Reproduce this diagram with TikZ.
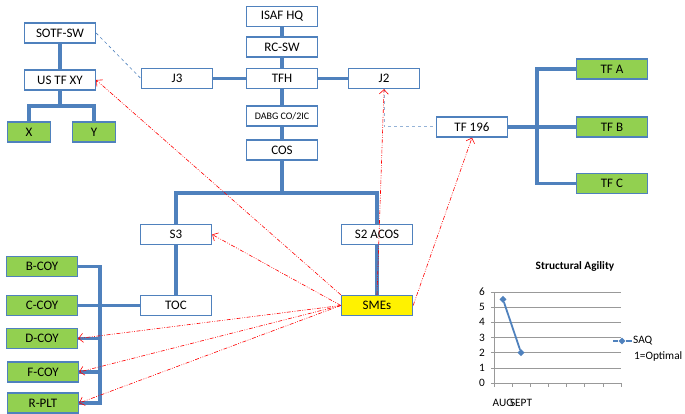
\documentclass[tikz,border=0pt]{standalone}
\usepackage{fontspec}
\setmainfont{Carlito}
\usetikzlibrary{positioning,shapes,arrows,arrows.meta}

\definecolor{boxblue}{HTML}{4F81BD}
\definecolor{coygreen}{HTML}{92D050}
\definecolor{dashblue}{HTML}{95B3D7}

\begin{document}
\begin{tikzpicture}[x=1pt,y=-1pt,inner sep=0.4mm,
  box/.style={draw=boxblue,line width=1.3pt,fill=white,minimum width=71pt,minimum height=20pt,font=\fontsize{13}{15}\selectfont},
  unit/.style={box,fill=coygreen},
  tree/.style={draw=boxblue,line width=3.5pt},
  liaison/.style={draw=dashblue,dashed,line width=1pt},
  sme/.style={-{Straight Barb[length=4.5pt,width=9pt]},red,line width=0.6pt,dash pattern=on 4pt off 1.5pt on 0.8pt off 1.5pt on 0.8pt off 1.5pt},
  chartgrid/.style={draw=black!40,line width=0.6pt},
  chartlbl/.style={font=\fontsize{11.3}{13}\selectfont}]
\useasboundingbox (0,0) rectangle (685,414);

% main chain
\node[box] (isaf) at (282,16.5) {ISAF HQ};
\node[box] (rcsw) at (282,47)   {RC-SW};
\node[box] (tfh)  at (282,78.5) {TFH};
\node[box,font=\fontsize{10}{12}\selectfont] (dabg) at (282,116) {DABG CO/2IC};
\node[box] (cos)  at (282,150)  {COS};
\node[box] (j3)   at (177,78.5) {J3};
\node[box] (j2)   at (384,78.5) {J2};

% left group
\node[box]  (sotf) at (60,33)  {SOTF-SW};
\node[box]  (ustf) at (60,80)  {US TF XY};
\node[unit,minimum width=43pt] (x) at (29,132) {X};
\node[unit,minimum width=43pt] (y) at (94,132) {Y};

% TF 196 group
\node[box]  (tf196) at (472,127) {TF 196};
\node[unit] (tfa)   at (612,69)  {TF A};
\node[unit] (tfb)   at (612,127) {TF B};
\node[unit] (tfc)   at (612,183.5) {TF C};

% staff
\node[box] (s3)  at (176,234.5) {S3};
\node[box] (s2)  at (377,234.5) {S2 ACOS};
\node[box] (toc) at (176,305.5) {TOC};
\node[box,fill=yellow] (smes) at (377,305.5) {SMEs};

% companies
\node[unit] (bcoy) at (42,266.5) {B-COY};
\node[unit] (ccoy) at (42,305.5) {C-COY};
\node[unit] (dcoy) at (42,338.5) {D-COY};
\node[unit] (fcoy) at (43,372)   {F-COY};
\node[unit] (rplt) at (43,403)   {R-PLT};

% tree lines
\coordinate (ustfj) at (60,106);
\coordinate (cosj)  at (282,193);
\coordinate (tfbus) at (537,127);
\coordinate (coybus) at (100,0);

\draw[tree] (isaf) -- (rcsw);
\draw[tree] (rcsw) -- (tfh);
\draw[tree] (tfh) -- (dabg);
\draw[tree] (dabg) -- (cos);
\draw[tree] (j3) -- (tfh);
\draw[tree] (tfh) -- (j2);
\draw[tree] (sotf) -- (ustf);
\draw[tree] (ustf) -- (ustfj) -| (x);
\draw[tree] (ustfj) -| (y);
\draw[tree] (tf196) -- (tfb);
\draw[tree] (tfa.west) -| (tfbus) |- (tfc.west);
\draw[tree] (cos) -- (cosj) -| (s3);
\draw[tree] (cosj) -| (s2);
\draw[tree] (s3) -- (toc);
\draw[tree] (s2) -- (smes);
\draw[tree] (ccoy) -- (toc);
\draw[tree] (bcoy.east) -| (bcoy.east -| coybus) |- (rplt.east);
\draw[tree] (dcoy.east) -- (dcoy.east -| coybus);
\draw[tree] (fcoy.east) -- (fcoy.east -| coybus);

% liaison
\draw[liaison,line width=0.6pt,draw=boxblue] (sotf.east) -- (j3.west);
\draw[liaison] (j2.south) |- (tf196.west);

% SME links
\draw[sme] (smes.north west) -- (ustf.east);
\draw[sme] (smes.west) -- (s3.east);
\draw[sme] (smes.north) -- (j2.south);
\draw[sme] (smes.east) -- (tf196.south);
\draw[sme] (smes.west) -- (dcoy.east);
\draw[sme] (smes.west) -- (fcoy.east);
\draw[sme] (smes.west) -- (rplt.east);

% chart
\node[font=\bfseries\fontsize{11.3}{13}\selectfont] (title) at (575,266) {Structural Agility};
\foreach \v in {1,...,6}
  \draw[chartgrid] (494,{383-15.2*\v}) -- (621,{383-15.2*\v});
\draw[chartgrid] (494,292) -- (494,383) -- (621,383);
\foreach \i in {0,...,7}
  \draw[chartgrid] ({494+18.14*\i},383) -- ++(0,4);
\foreach \v in {0,...,6} {
  \draw[chartgrid] (494,{383-15.2*\v}) -- ++(-3,0);
  \node[chartlbl] (ylbl\v) at (482,{383-15.2*\v}) {\v};
}
\node[diamond,fill=boxblue,inner sep=0pt,minimum size=7pt] (aug)  at (503,299.4) {};
\node[diamond,fill=boxblue,inner sep=0pt,minimum size=7pt] (sept) at (521,352.6) {};
\draw[boxblue,line width=1.8pt] (aug) -- (sept);
\node[chartlbl] (auglbl)  at (503,403) {AUG};
\node[chartlbl] (septlbl) at (521,403) {SEPT};

\node[diamond,fill=boxblue,inner sep=0pt,minimum size=7pt] (key) at (622,341) {};
\draw[boxblue,line width=1.8pt] (613,341) -- (key) -- (632,341);
\node[chartlbl,anchor=west,inner sep=0pt] (saq) at (633,341) {SAQ};
\node[chartlbl,anchor=west,inner sep=0pt] (optimal) at (634,356) {1=Optimal};
\end{tikzpicture}
\end{document}
